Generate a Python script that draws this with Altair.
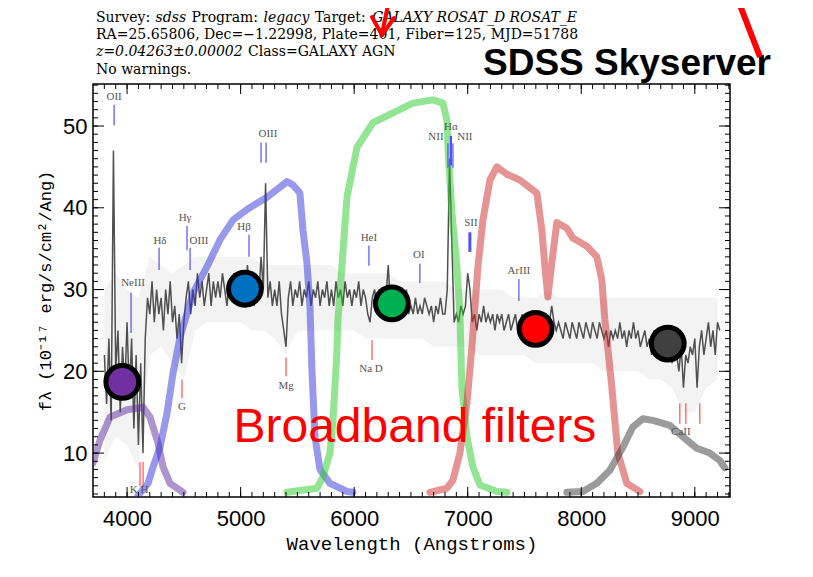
import altair as alt
import pandas as pd

# ---------------- spectrum (flux, 1e-17 erg/s/cm2/A), 20 A grid from 3800 A ----------------
flux = [
    22, 16, 24, 14, 47, 20, 25, 15, 23, 18,
    26, 17, 24, 13, 22, 11, 21, 10, 24, 29,
    27, 31, 26, 30, 27, 29, 25, 30, 27, 31,
    26, 28, 24, 27, 21, 26, 29, 31, 27, 30,
    28, 32, 29, 31, 28, 30, 32, 28, 31, 29,
    31, 29, 32, 30, 28, 31, 29, 32, 30, 31,
    29, 31, 28, 33, 30, 30, 28, 31, 29, 34,
    30, 43, 29, 31, 28, 30, 28, 31, 27, 25,
    23, 29, 31, 28, 30, 29, 31, 28, 30, 29,
    31, 28, 30, 29, 31, 28, 30, 29, 31, 28,
    30, 28, 31, 29, 30, 28, 31, 29, 30, 28,
    30, 29, 31, 28, 30, 29, 27, 26, 29, 30,
    28, 30, 29, 28, 29, 33, 28, 27, 29, 28,
    29, 27, 28, 30, 27, 28, 27, 29, 27, 28,
    27, 29, 28, 27, 28, 26, 28, 27, 29, 27,
    27, 30, 46, 36, 26, 27, 26, 28, 27, 28,
    32, 30, 26, 27, 25, 27, 26, 28, 26, 27,
    26, 27, 25, 27, 26, 27, 25, 26, 27, 25,
    26, 27, 25, 26, 27, 25, 26, 24, 26, 25,
    26, 24, 26, 25, 27, 25, 26, 28, 26, 25,
    26, 25, 24, 26, 25, 24, 26, 25, 24, 26,
    25, 24, 26, 25, 24, 26, 25, 24, 26, 25,
    24, 25, 23, 25, 24, 25, 24, 26, 24, 25,
    23, 25, 24, 26, 24, 25, 23, 24, 25, 23,
    24, 22, 25, 23, 24, 22, 24, 23, 22, 24,
    21, 23, 22, 20, 23, 18, 22, 21, 23, 22,
    24, 18, 23, 25, 22, 24, 26, 23, 25, 22,
    26, 25,
]
wave = list(range(3800, 3800 + 20 * len(flux), 20))

# light-grey noise envelope (100 A grid)
band_wave = list(range(3800, 9201, 100))
band_hi = [30, 32, 30, 29, 34, 33, 32, 33, 34, 34,
           34, 34, 34, 34, 33, 33, 33, 33, 33, 33,
           33, 32, 32, 32, 32, 32, 31, 31, 31, 31,
           31, 30, 30, 30, 30, 30, 29, 29, 29, 30,
           29, 29, 29, 29, 29, 29, 29, 29, 29, 29,
           29, 29, 29, 29, 29]
band_lo = [9, 12, 11, 8, 22, 23, 21, 19, 25, 26,
           26, 26, 26, 25, 25, 24, 22, 25, 25, 25,
           25, 25, 25, 24, 24, 24, 24, 24, 24, 23,
           23, 23, 23, 22, 22, 22, 22, 22, 21, 21,
           21, 21, 21, 21, 20, 20, 20, 20, 19, 19,
           18, 15, 15, 18, 19]

# ---------------- broadband filter curves (scaled to plot) ----------------
u_wave = [3700, 3762, 3850, 4000, 4141, 4202, 4273, 4317, 4379, 4493]
u_val = [8.8, 11.6, 14.4, 15.3, 15.6, 14.4, 11.2, 8.3, 6.3, 5.2]
g_wave = [4097, 4185, 4229, 4290, 4352, 4405, 4467, 4581, 4704, 4819, 4933, 5056, 5232,
          5408, 5461, 5522, 5549, 5584, 5611, 5628, 5655, 5699, 5787, 5937, 5989]
g_val = [4.8, 6.3, 8.3, 10.7, 14.9, 19.8, 24.2, 29.6, 32.8, 36.1, 38.5, 39.8, 41.3,
         43.2, 42.8, 41.8, 37.3, 33.3, 27.9, 20.2, 12.0, 8.0, 6.3, 5.3, 5.2]
r_wave = [5408, 5672, 5725, 5787, 5813, 5848, 5857, 5892, 5937, 6025, 6165, 6342, 6518,
          6694, 6782, 6817, 6826, 6861, 6905, 6931, 6949, 6993, 7046, 7108, 7257, 7345]
r_val = [5.2, 5.7, 7.1, 10.0, 14.0, 22.2, 26.3, 32.8, 41.3, 47.4, 50.4, 51.6, 52.8,
         53.2, 52.8, 50.7, 47.4, 39.4, 32.8, 27.1, 18.1, 12.0, 8.3, 6.1, 5.3, 5.2]
i_wave = [6667, 6817, 6870, 6931, 6993, 7037, 7090, 7134, 7196, 7257, 7345, 7459, 7609, 7653,
          7680, 7706, 7741, 7785, 7873, 7926, 8049, 8137, 8181, 8208, 8269, 8322, 8401, 8516]
i_val = [5.2, 5.7, 6.7, 10.0, 16.1, 23.0, 32.8, 38.5, 43.4, 45.0, 44.1, 43.4, 41.8, 37.3,
         32.8, 29.1, 33.3, 38.2, 37.5, 36.3, 35.3, 34.0, 31.2, 26.3, 18.1, 10.0, 6.3, 5.3]
z_wave = [7873, 8014, 8137, 8252, 8366, 8454, 8542, 8630, 8780, 8894, 9017, 9132, 9220, 9264]
z_val = [5.2, 5.3, 6.3, 7.9, 10.7, 13.2, 14.2, 14.0, 13.4, 12.0, 10.6, 10.0, 9.1, 8.2]
filter_colors = {"u": "#5a2a9a", "g": "#3232dc", "r": "#28cc28", "i": "#cc2828", "z": "#383838"}

# ---------------- broadband flux points ----------------
circ_band = ["u", "g", "r", "i", "z"]
circ_wave = [3958, 5038, 6332, 7598, 8762]
circ_flux = [18.7, 30.1, 28.3, 25.2, 23.4]
circ_color = ["#7030a0", "#0070c0", "#00b050", "#ff0000", "#404040"]

# ---------------- spectral line identifications ----------------
em_names = ["OII", "NeIII", "Hδ", "Hγ", "OIII", "Hβ", "OIII", "HeI", "OI", "NII", "Hα", "NII", "SII", "ArIII"]
em_label_wave = [3886, 4053, 4290, 4511, 4634, 5030, 5241, 6130, 6570, 6720, 6852, 6975, 7028, 7451]
em_label_y = [53.5, 30.8, 36.0, 38.7, 36.0, 37.6, 49.0, 36.3, 34.2, 48.7, 49.9, 48.7, 38.1, 32.3]
em_tick_wave = [3886, 4035, 4282, 4528, 4555, 5074, 5180, 5224, 6130, 6579, 6826, 6852, 6870, 7019, 7451]
em_tick_top = [52.6, 29.6, 35.1, 37.8, 35.1, 36.7, 48.0, 48.0, 35.4, 33.2, 47.9, 48.8, 47.9, 37.0, 31.3]
em_tick_bot = [50.1, 24.7, 32.4, 34.8, 32.4, 34.0, 45.5, 45.5, 32.9, 30.8, 44.9, 45.2, 44.9, 34.6, 28.6]
em_tick_width = [1.2, 1.2, 1.2, 1.2, 1.2, 1.2, 1.2, 1.2, 1.2, 1.2, 1.2, 2.2, 1.2, 3.0, 1.2]

abs_names = ["K H", "G", "Mg", "Na D", "CaII"]
abs_label_wave = [4106, 4484, 5400, 6148, 8877]
abs_label_y = [5.5, 15.6, 18.2, 20.3, 12.6]
abs_tick_wave = [4114, 4141, 4484, 5400, 6157, 8868, 8921, 9044]
abs_tick_top = [8.9, 8.9, 19.0, 21.7, 23.8, 16.1, 16.1, 16.1]
abs_tick_bot = [5.9, 5.9, 16.7, 19.4, 21.4, 13.6, 13.6, 13.6]

# ---------------- axes ----------------
x_tick_labels = [4000, 5000, 6000, 7000, 8000, 9000]
y_tick_labels = [10, 20, 30, 40, 50]
x_minor = list(range(3800, 9301, 100))
y_minor = list(range(5, 56))

note_text = ["Broadband filters"]
note_wave = [6535]
note_y = [11.3]

# header lines (segment text, italic flag); segments are separated by one space
header_lines = [
    [("Survey:", False), ("sdss", True), ("Program:", False), ("legacy", True),
     ("Target:", False), ("GALAXY ROSAT_D ROSAT_E", True)],
    [("RA=25.65806, Dec=−1.22998, Plate=401, Fiber=125, MJD=51788", False)],
    [("z=0.04263±0.00002", True), ("Class=GALAXY AGN", False)],
    [("No warnings.", False)],
]

# ---------------- build ----------------
W, H = 637, 413
xs = alt.Scale(domain=[3700, 9310], nice=False, zero=False)
ys = alt.Scale(domain=[4.63, 55.14], nice=False, zero=False)

xaxis = alt.Axis(values=x_tick_labels, format="d", title="Wavelength (Angstroms)",
                 labelFont="Liberation Sans", labelFontSize=22, labelColor="black",
                 labelPadding=11, ticks=False, tickSize=0, domain=False, grid=False,
                 titleFont="Liberation Mono", titleFontSize=19, titleFontWeight="normal",
                 titleColor="black", titlePadding=5)
yaxis = alt.Axis(values=y_tick_labels, format="d", title="fλ (10⁻¹⁷ erg/s/cm²/Ang)",
                 labelFont="Liberation Sans", labelFontSize=22, labelColor="black",
                 labelPadding=6, ticks=False, tickSize=0, domain=False, grid=False,
                 titleFont="Liberation Mono", titleFontSize=17, titleFontWeight="normal",
                 titleColor="black", titlePadding=8)

df_band = pd.DataFrame({"w": band_wave, "hi": band_hi, "lo": band_lo})
df_spec = pd.DataFrame({"w": wave, "f": flux})
rows = []
for b, ws, vs in [("u", u_wave, u_val), ("g", g_wave, g_val), ("r", r_wave, r_val),
                  ("i", i_wave, i_val), ("z", z_wave, z_val)]:
    for k, (w_, v_) in enumerate(zip(ws, vs)):
        rows.append({"band": b, "w": w_, "v": v_, "o": k, "col": filter_colors[b]})
df_filt = pd.DataFrame(rows)
df_circ = pd.DataFrame({"band": circ_band, "w": circ_wave, "f": circ_flux, "col": circ_color})
df_eml = pd.DataFrame({"name": em_names, "w": em_label_wave, "y": em_label_y})
df_emt = pd.DataFrame({"w": em_tick_wave, "t": em_tick_top, "b": em_tick_bot, "sw": em_tick_width})
df_abl = pd.DataFrame({"name": abs_names, "w": abs_label_wave, "y": abs_label_y})
df_abt = pd.DataFrame({"w": abs_tick_wave, "t": abs_tick_top, "b": abs_tick_bot})
df_note = pd.DataFrame({"t": note_text, "w": note_wave, "y": note_y})
df_xmin = pd.DataFrame({"w": x_minor})
df_xmaj = pd.DataFrame({"w": x_tick_labels})
df_ymin = pd.DataFrame({"v": y_minor})
df_ymaj = pd.DataFrame({"v": y_tick_labels})

X = lambda f: alt.X(f, scale=xs, axis=xaxis)
Y = lambda f: alt.Y(f, scale=ys, axis=yaxis)

band = alt.Chart(df_band).mark_area(color="#bdbdbd", opacity=0.18).encode(
    x=X("w:Q"), y=Y("lo:Q"), y2="hi:Q")
spec = alt.Chart(df_spec).mark_line(color="#505050", strokeWidth=1.5).encode(x=X("w:Q"), y=Y("f:Q"))
filt = alt.Chart(df_filt).mark_line(strokeWidth=7, opacity=0.5, strokeJoin="round",
                                    strokeCap="round", clip=True).encode(
    x=X("w:Q"), y=Y("v:Q"), color=alt.Color("col:N", scale=None), detail="band:N", order="o:Q")
emt = alt.Chart(df_emt).mark_rule(color="#5050ff").encode(
    x=X("w:Q"), y=Y("t:Q"), y2="b:Q", strokeWidth=alt.StrokeWidth("sw:Q", scale=None))
abt = alt.Chart(df_abt).mark_rule(color="#ff5050", strokeWidth=1.2).encode(
    x=X("w:Q"), y=Y("t:Q"), y2="b:Q")
eml = alt.Chart(df_eml).mark_text(font="Liberation Serif", fontSize=11, color="#555555",
                                  baseline="middle").encode(x=X("w:Q"), y=Y("y:Q"), text="name:N")
abl = alt.Chart(df_abl).mark_text(font="Liberation Serif", fontSize=11, color="#555555",
                                  baseline="middle").encode(x=X("w:Q"), y=Y("y:Q"), text="name:N")
circ = alt.Chart(df_circ).mark_circle(size=1075, stroke="black", strokeWidth=5, opacity=1).encode(
    x=X("w:Q"), y=Y("f:Q"), fill=alt.Fill("col:N", scale=None))
note = alt.Chart(df_note).mark_text(font="Liberation Sans", fontSize=48, color="#ff0000",
                                    align="center", baseline="alphabetic").encode(
    x=X("w:Q"), y=Y("y:Q"), text="t:N")

tick_layers = []
for df_, fld, ln in [(df_xmin, "w:Q", 5), (df_xmaj, "w:Q", 10)]:
    tick_layers.append(alt.Chart(df_).mark_rule(color="black", strokeWidth=1).encode(
        x=X(fld), y=alt.value(H), y2=alt.value(H - ln)))
    tick_layers.append(alt.Chart(df_).mark_rule(color="black", strokeWidth=1).encode(
        x=X(fld), y=alt.value(0), y2=alt.value(ln)))
for df_, fld, ln in [(df_ymin, "v:Q", 5), (df_ymaj, "v:Q", 11)]:
    tick_layers.append(alt.Chart(df_).mark_rule(color="black", strokeWidth=1).encode(
        y=Y(fld), x=alt.value(0), x2=alt.value(ln)))
    tick_layers.append(alt.Chart(df_).mark_rule(color="black", strokeWidth=1).encode(
        y=Y(fld), x=alt.value(W), x2=alt.value(W - ln)))

# header text laid out segment by segment using approximate DejaVu Serif advance widths
DJV = {" ": .318, ".": .318, ",": .318, ":": .337, "=": .838, "±": .838, "−": .838, "_": .5,
       "A": .722, "C": .734, "D": .83, "E": .73, "G": .821, "J": .402, "L": .653, "M": .995,
       "N": .837, "O": .82, "P": .675, "R": .735, "S": .685, "T": .667, "X": .712, "Y": .667,
       "F": .675, "a": .596, "b": .64, "c": .56, "d": .64, "e": .592, "g": .64, "i": .32,
       "l": .32, "m": .948, "n": .644, "o": .602, "r": .478, "s": .513, "t": .402, "u": .644,
       "v": .565, "w": .856, "y": .565, "z": .525}

def tw(s):
    return sum(DJV.get(ch, 0.636) for ch in s)

HFS = 14
hdr = []
line_y = [-66, -49, -32, -14]
for segs, yy in zip(header_lines, line_y):
    xx = 3.0
    for txt, it in segs:
        hdr.append(alt.Chart(df_note).mark_text(
            text=txt, font="DejaVu Serif", fontSize=HFS,
            fontStyle="italic" if it else "normal", color="black", align="left",
            baseline="middle").encode(x=alt.value(xx), y=alt.value(yy)))
        xx += (tw(txt) + DJV[" "]) * HFS + 1

sky = alt.Chart(df_note).mark_text(text="SDSS Skyserver", font="Liberation Sans", fontSize=37,
                                   fontWeight="bold", color="black", align="left",
                                   baseline="alphabetic").encode(x=alt.value(390), y=alt.value(-9))

arrows = [
    alt.Chart(df_note).mark_rule(color="red", strokeWidth=6).encode(
        x=alt.value(645), x2=alt.value(667), y=alt.value(-84), y2=alt.value(-27)),
    alt.Chart(df_note).mark_rule(color="red", strokeWidth=4).encode(
        x=alt.value(296), x2=alt.value(289), y=alt.value(-84), y2=alt.value(-50)),
    alt.Chart(df_note).mark_rule(color="red", strokeWidth=4, strokeCap="round").encode(
        x=alt.value(279), x2=alt.value(289), y=alt.value(-67), y2=alt.value(-49)),
    alt.Chart(df_note).mark_rule(color="red", strokeWidth=4, strokeCap="round").encode(
        x=alt.value(301), x2=alt.value(289), y=alt.value(-66), y2=alt.value(-49)),
]

chart = alt.layer(band, spec, filt, emt, abt, eml, abl, circ, note, *tick_layers, *hdr, sky, *arrows).properties(
    width=W, height=H,
    padding={"left": 85, "top": 76, "right": 75, "bottom": 72},
    autosize=alt.AutoSizeParams(type="none"),
    background="white",
).configure_view(stroke="black", strokeWidth=1.5)

chart.save("out.html", embed_options={"renderer": "svg", "actions": False})
